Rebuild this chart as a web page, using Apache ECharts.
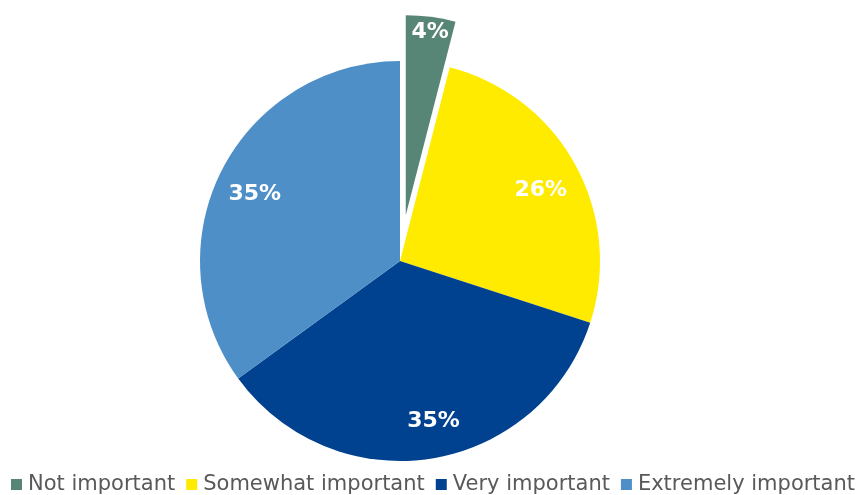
<!DOCTYPE html>
<html>
<head>
<meta charset="utf-8">
<script src="https://cdn.jsdelivr.net/npm/echarts@6/dist/echarts.min.js"></script>
<style>
  html, body { margin: 0; padding: 0; background: #fff; }
  #chart { width: 866px; height: 495px; }
</style>
</head>
<body>
<div id="chart"></div>
<script>
/*数据*/
var categories = ['Not important', 'Somewhat important', 'Very important', 'Extremely important'];
var values = [4, 26, 35, 35];
var colors = ['#578676', '#ffeb00', '#00428f', '#4e8fc8'];
// 标签微调（像素）
var labelShift = [[4, -21], [-2, 8], [8, -1], [0, 7]];

var chart = echarts.init(document.getElementById('chart'));

// 扇区数据，第一个分离出来
function buildData(withColor) {
  var arr = [];
  for (var i = 0; i < categories.length; i++) {
    arr.push({
      name: categories[i],
      value: values[i],
      selected: i == 0,
      itemStyle: { color: withColor ? colors[i] : 'transparent' }
    });
  }
  return arr;
}

var option = {
  animation: false,
  color: colors,
  legend: {
    bottom: -5,
    left: 'center',
    icon: 'rect',
    itemWidth: 11,
    itemHeight: 11,
    itemGap: 11,
    selectedMode: false,
    data: categories,
    textStyle: {
      fontFamily: 'DejaVu Sans',
      fontSize: 21,
      color: '#595959',
      padding: [0, 0, 0, 1]
    }
  },
  series: [
    {
      type: 'pie',
      center: [400, 261],
      radius: [0, 200],
      startAngle: 90,
      clockwise: true,
      selectedMode: true,
      selectedOffset: 46,
      silent: true,
      label: { show: false },
      labelLine: { show: false },
      data: buildData(true)
    },
    {
      // 只用于放标签
      type: 'pie',
      center: [400, 261],
      radius: [120, 200],
      startAngle: 90,
      clockwise: true,
      selectedMode: true,
      selectedOffset: 46,
      silent: true,
      legendHoverLink: false,
      label: {
        show: true,
        position: 'inside',
        formatter: '{c}%',
        color: '#fff',
        fontFamily: 'DejaVu Sans',
        fontWeight: 'bold',
        fontSize: 22
      },
      labelLayout: function (p) {
        var s = labelShift[p.dataIndex];
        return { dx: s[0], dy: s[1] };
      },
      labelLine: { show: false },
      data: buildData(false)
    }
  ]
};
chart.setOption(option);
</script>
</body>
</html>
